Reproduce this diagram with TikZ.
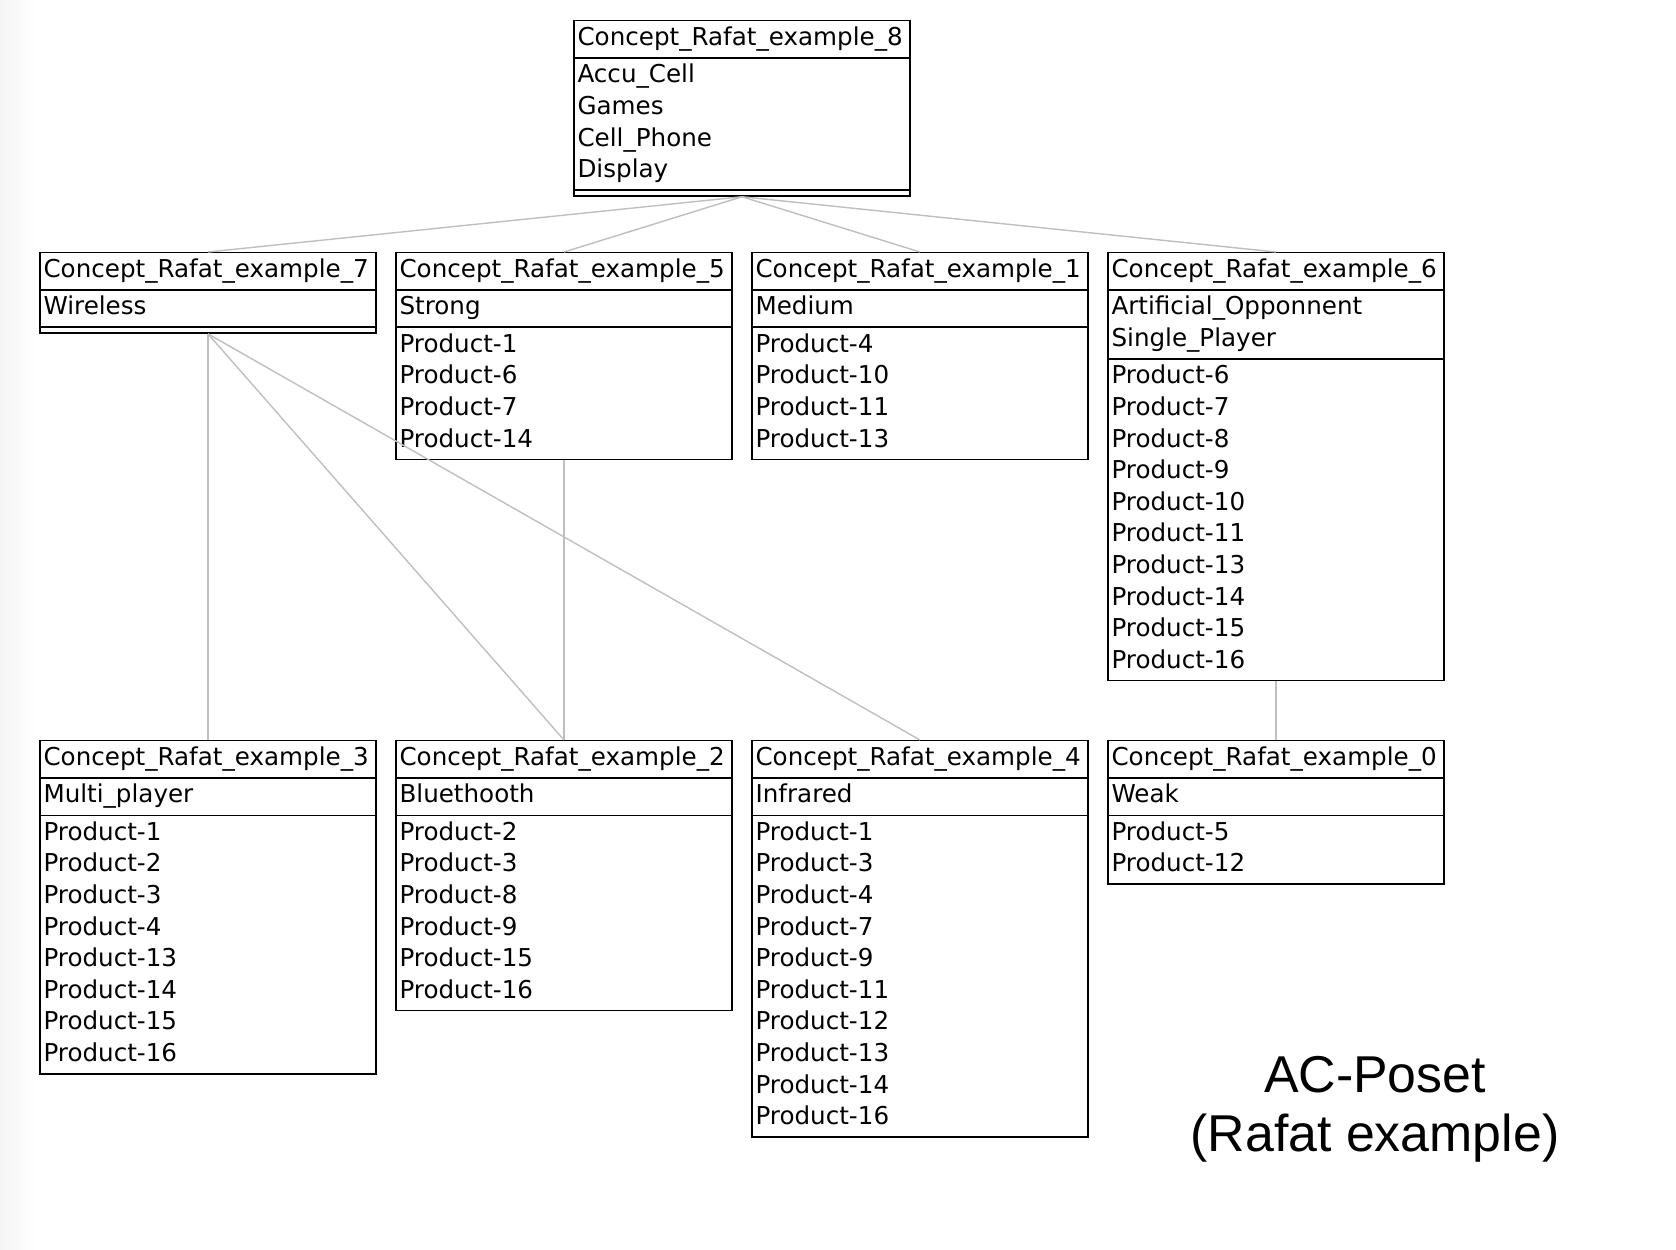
\documentclass[tikz,border=0pt]{standalone}
\usepackage{fontspec}
\usetikzlibrary{shapes.multipart}
\newfontfamily\boxfamily{DejaVu Sans}
\newfontfamily\titlefamily{Liberation Sans}
\newcommand\boxfont{\boxfamily\fontsize{14}{18}\selectfont}
\newcommand\rows[1]{{\boxfont\begin{tabular}{@{}l@{}}#1\end{tabular}}}
\newcommand\noobjects{\rule{0pt}{0.2pt}}
\tikzset{
  concept/.style={draw, line width=0.8pt, rectangle split, rectangle split parts=3,
    rectangle split part align=left, minimum width=6.72cm,
    inner xsep=2pt, inner ysep=1.2pt, anchor=north, font=\boxfont},
  link/.style={draw=gray!50, line width=0.8pt},
  caption/.style={align=center, inner sep=0pt,
    font=\titlefamily\fontsize{29.5}{33.6}\selectfont},
}
\begin{document}
\begin{tikzpicture}[x=0.02cm, y=-0.02cm]
                \useasboundingbox (0,0) rectangle (1676,1250);
                \shade[left color=gray!8, right color=white] (0,0) rectangle (36,1250);
                % top concept
                \node[concept] (c8) at (742,20) {\rows{Concept\_Rafat\_example\_8}\nodepart{two}\rows{Accu\_Cell\\Games\\Cell\_Phone\\Display}\nodepart{three}\noobjects};
                % middle row
                \node[concept] (c7) at (208,252) {\rows{Concept\_Rafat\_example\_7}\nodepart{two}\rows{Wireless}\nodepart{three}\noobjects};
                \node[concept] (c5) at (564,252) {\rows{Concept\_Rafat\_example\_5}\nodepart{two}\rows{Strong}\nodepart{three}\rows{Product-1\\Product-6\\Product-7\\Product-14}};
                \node[concept] (c1) at (920,252) {\rows{Concept\_Rafat\_example\_1}\nodepart{two}\rows{Medium}\nodepart{three}\rows{Product-4\\Product-10\\Product-11\\Product-13}};
                \node[concept] (c6) at (1276,252) {\rows{Concept\_Rafat\_example\_6}\nodepart{two}\rows{Artificial\_Opponnent\\Single\_Player}\nodepart{three}\rows{Product-6\\Product-7\\Product-8\\Product-9\\Product-10\\Product-11\\Product-13\\Product-14\\Product-15\\Product-16}};
                % bottom row
                \node[concept] (c3) at (208,740) {\rows{Concept\_Rafat\_example\_3}\nodepart{two}\rows{Multi\_player}\nodepart{three}\rows{Product-1\\Product-2\\Product-3\\Product-4\\Product-13\\Product-14\\Product-15\\Product-16}};
                \node[concept] (c2) at (564,740) {\rows{Concept\_Rafat\_example\_2}\nodepart{two}\rows{Bluethooth}\nodepart{three}\rows{Product-2\\Product-3\\Product-8\\Product-9\\Product-15\\Product-16}};
                \node[concept] (c4) at (920,740) {\rows{Concept\_Rafat\_example\_4}\nodepart{two}\rows{Infrared}\nodepart{three}\rows{Product-1\\Product-3\\Product-4\\Product-7\\Product-9\\Product-11\\Product-12\\Product-13\\Product-14\\Product-16}};
                \node[concept] (c0) at (1276,740) {\rows{Concept\_Rafat\_example\_0}\nodepart{two}\rows{Weak}\nodepart{three}\rows{Product-5\\Product-12}};
                % order relation
                \draw[link] (c8.south) -- (c7.north);
                \draw[link] (c8.south) -- (c5.north);
                \draw[link] (c8.south) -- (c1.north);
                \draw[link] (c8.south) -- (c6.north);
                \draw[link] (c7.south) -- (c3.north);
                \draw[link] (c7.south) -- (c2.north);
                \draw[link] (c7.south) -- (c4.north);
                \draw[link] (c5.south) -- (c2.north);
                \draw[link] (c6.south) -- (c0.north);
                % caption
                \node[caption] (title) at (1375,1109) {AC-Poset\\(Rafat example)};
\end{tikzpicture}
\end{document}
